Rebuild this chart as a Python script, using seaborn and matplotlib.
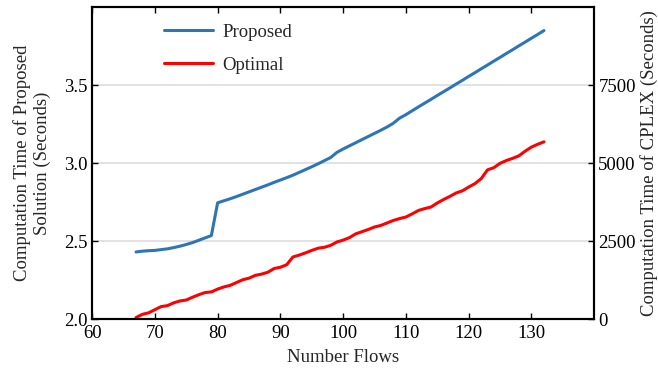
import numpy as np
import pandas as pd
import seaborn as sns
import matplotlib.pyplot as plt

flows = list(range(67, 133))
proposed = [2.430, 2.435, 2.438, 2.440, 2.445, 2.450, 2.458, 2.467, 2.478, 2.490,
            2.505, 2.520, 2.535, 2.745, 2.758, 2.771, 2.785, 2.800, 2.815, 2.830,
            2.845, 2.860, 2.876, 2.891, 2.906, 2.922, 2.940, 2.958, 2.976, 2.995,
            3.015, 3.035, 3.068, 3.090, 3.110, 3.130, 3.150, 3.170, 3.190, 3.210,
            3.231, 3.255, 3.288, 3.310, 3.335, 3.360, 3.384, 3.408, 3.433, 3.457,
            3.481, 3.506, 3.530, 3.555, 3.579, 3.604, 3.628, 3.653, 3.677, 3.702,
            3.726, 3.751, 3.775, 3.800, 3.824, 3.849]
optimal = [50, 150, 200, 300, 400, 430, 520, 580, 610, 700,
           780, 850, 870, 960, 1030, 1080, 1170, 1260, 1310, 1400,
           1440, 1500, 1620, 1660, 1740, 1990, 2050, 2120, 2200, 2270,
           2300, 2360, 2470, 2530, 2610, 2730, 2800, 2870, 2950, 3000,
           3080, 3160, 3220, 3270, 3370, 3480, 3540, 3590, 3720, 3830,
           3930, 4040, 4110, 4230, 4340, 4500, 4780, 4850, 4990, 5080,
           5150, 5230, 5380, 5510, 5600, 5680]

df = pd.DataFrame({"flows": flows, "proposed": proposed, "optimal": optimal})

sns.set_style("white")
plt.rcParams['font.family'] = ['Liberation Serif', 'DejaVu Serif']

fig = plt.figure(figsize=(6.58, 3.68), dpi=100)
ax = fig.add_axes([0.140, 0.133, 0.763, 0.848])
ax2 = ax.twinx()

blue = "#2e75b6"
red = "#ff0000"
sns.lineplot(data=df, x="flows", y="proposed", ax=ax, color=blue, lw=2.2, label="Proposed", legend=False)
sns.lineplot(data=df, x="flows", y="optimal", ax=ax2, color=red, lw=2.2, label="Optimal", legend=False)

ax.set_xlim(60, 140)
ax.set_ylim(2.0, 4.0)
ax2.set_ylim(0, 10000)
ax.set_xticks(range(60, 140, 10))
ax.set_yticks([2.0, 2.5, 3.0, 3.5])
ax2.set_yticks([0, 2500, 5000, 7500])
ax.yaxis.grid(True, color="#dddddd", lw=1.2)
ax.set_axisbelow(True)

fs = 13.5
for a in (ax, ax2):
    for s in a.spines.values():
        s.set_color("black")
        s.set_linewidth(1.5)
    a.tick_params(direction="in", length=4, width=1, labelsize=fs, colors="black", pad=3)
ax.tick_params(top=True, bottom=True, left=True)
ax.tick_params(axis="x", pad=4)
ax2.tick_params(right=True)

ax.set_xlabel("Number Flows", fontsize=fs, labelpad=5)
ax.set_ylabel("Computation Time of Proposed\nSolution (Seconds)", fontsize=fs, labelpad=10)
ax2.set_ylabel("Computation Time of CPLEX (Seconds)", fontsize=fs, labelpad=3)

h1, l1 = ax.get_legend_handles_labels()
h2, l2 = ax2.get_legend_handles_labels()
ax.legend(h1 + h2, l1 + l2, loc="upper left", bbox_to_anchor=(0.11, 1.0),
          frameon=False, fontsize=fs, handlelength=2.6, handletextpad=0.5,
          labelspacing=0.85)

fig.savefig("out.png", dpi=100)
